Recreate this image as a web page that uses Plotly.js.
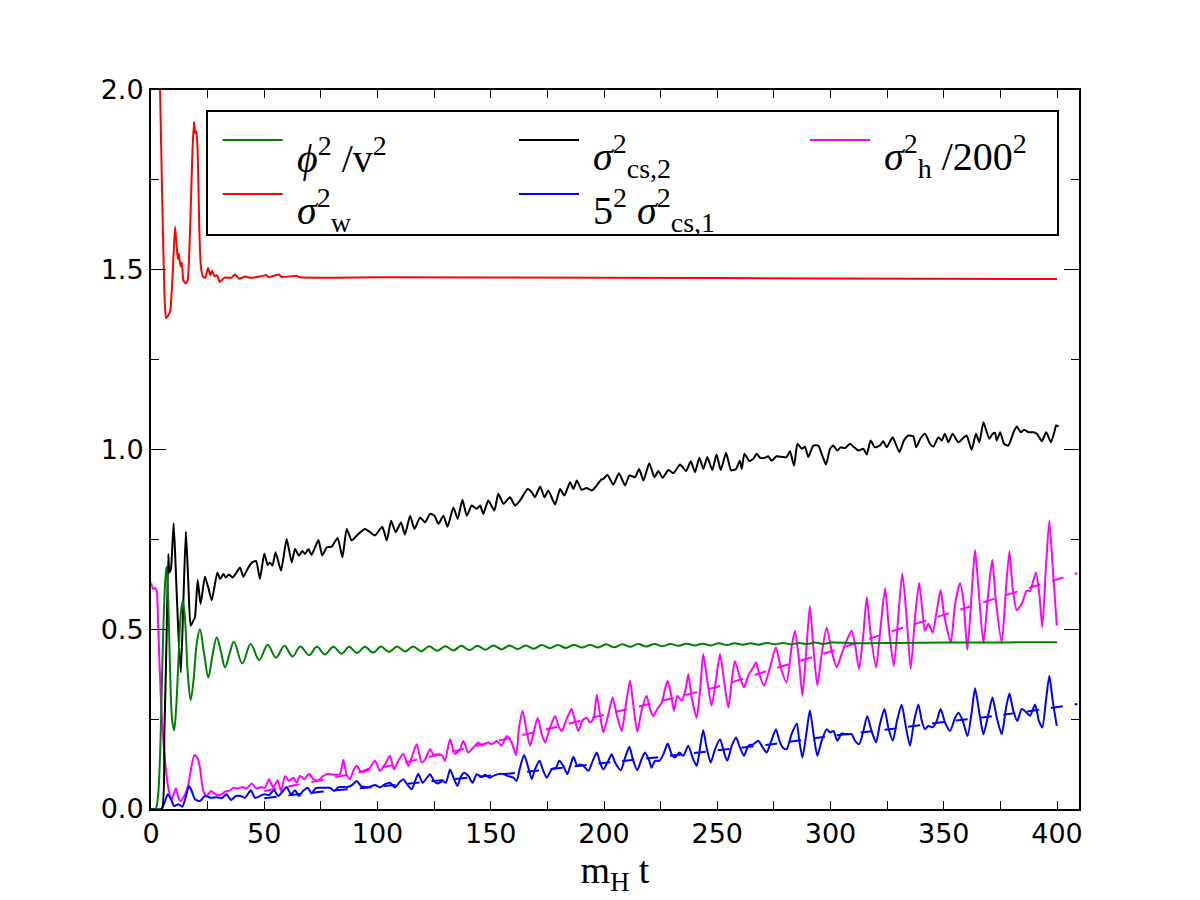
<!DOCTYPE html>
<html>
<head>
<meta charset="utf-8">
<script src="https://cdn.plot.ly/plotly-3.0.1.min.js"></script>
<style>
  html, body { margin: 0; padding: 0; background: #ffffff; }
  #chart { width: 1200px; height: 900px; }
</style>
</head>
<body>
<div id="chart"></div>
<script>
// phi^2 / v^2
const phiT = [0, 2, 3, 4, 5, 6, 6.8, 7.6, 8.4, 9.3, 10.2, 11.1, 12.1, 13.1, 14.0, 15.0, 16.2, 17.5, 18.8, 20.2, 21.6, 23.5, 25.3, 27.2, 29.0, 30.8, 32.7, 34.6, 36.6, 40.3, 44.0, 47.8, 51.5, 55.2, 58.9, 62.5, 65.9, 69.8, 73.2, 76.8, 80.5, 84.2, 87.4, 91.0, 94.4, 98.1, 101.5, 105.1, 108.6, 112.2, 115.7, 119.3, 122.8, 126.4, 129.9, 133.5, 137.0, 140.6, 144.1, 147.7, 151.2, 154.8, 158.3, 161.9, 165.4, 169.0, 172.5, 176.1, 179.6, 183.2, 186.7, 190.3, 193.8, 197.4, 200.9, 204.5, 208.0, 211.6, 215.1, 218.7, 222.2, 225.8, 229.3, 232.9, 236.4, 240.0, 243.5, 247.1, 250.6, 254.2, 257.7, 261.3, 264.8, 268.4, 271.9, 275.5, 279.0, 282.6, 286.1, 289.7, 293.2, 296.8, 300.3, 310, 330, 350, 370, 390, 400];
const phiV = [0, 0.0, 0.03, 0.15, 0.40, 0.60, 0.674, 0.58, 0.393, 0.25, 0.219, 0.28, 0.412, 0.54, 0.579, 0.53, 0.38, 0.303, 0.36, 0.46, 0.50, 0.43, 0.366, 0.43, 0.477, 0.44, 0.394, 0.43, 0.465, 0.405, 0.459, 0.414, 0.457, 0.421, 0.454, 0.424, 0.452, 0.428, 0.451, 0.430, 0.451, 0.432, 0.451, 0.434, 0.451, 0.435, 0.452, 0.437, 0.452, 0.438, 0.452, 0.439, 0.453, 0.440, 0.453, 0.441, 0.454, 0.442, 0.454, 0.443, 0.455, 0.444, 0.455, 0.445, 0.455, 0.446, 0.456, 0.447, 0.456, 0.448, 0.457, 0.449, 0.457, 0.449, 0.458, 0.450, 0.458, 0.451, 0.459, 0.452, 0.459, 0.453, 0.459, 0.454, 0.460, 0.455, 0.460, 0.455, 0.461, 0.456, 0.461, 0.457, 0.461, 0.457, 0.462, 0.458, 0.462, 0.458, 0.462, 0.459, 0.463, 0.459, 0.463, 0.461, 0.462, 0.463, 0.463, 0.464, 0.464];

// sigma_w^2
const sigWT = [0, 2, 4, 5, 6, 6.6, 7.5, 8.5, 9.5, 10.6, 11.3, 11.8, 12.3, 13.0, 13.6, 14.3, 15.3, 16.2, 17.3, 18.3, 19.0, 19.5, 20.0, 20.6, 21.3, 22.0, 23.0, 24.0, 25.2, 26.2, 27.0, 28.0, 29.2, 30.3, 32.5, 35.5, 37, 39, 41.5, 44, 48, 51, 52, 56.5, 57.5, 64.5, 65.5, 100, 200, 300, 400];
const sigWV = [3.1, 2.55, 2.0, 1.68, 1.42, 1.365, 1.372, 1.385, 1.48, 1.62, 1.57, 1.53, 1.545, 1.51, 1.52, 1.47, 1.462, 1.47, 1.62, 1.83, 1.912, 1.88, 1.885, 1.83, 1.62, 1.51, 1.48, 1.478, 1.505, 1.485, 1.497, 1.482, 1.485, 1.466, 1.478, 1.478, 1.487, 1.475, 1.481, 1.478, 1.481, 1.485, 1.479, 1.487, 1.48, 1.483, 1.479, 1.479, 1.478, 1.476, 1.474];

// sigma_cs,2^2
const cs2T = [0, 4.7, 5.9, 6.9, 7.65, 8.1, 8.8, 10.0, 10.9, 12.1, 13.2, 14.3, 15.4, 16.5, 17.5, 18.7, 19.4, 20.6, 21.9, 23.8, 25.3, 26.8, 29.3, 30.5, 32.0, 33.0, 34.4, 36.0, 37.4, 39.3, 40.8, 43.0, 44.7, 46.4, 48.1, 50.0, 51.5, 52.5, 53.6, 55.0, 57.4, 59.9, 62.1, 63.6, 65.3, 66.8, 68.0, 69.5, 70.9, 73.9, 75.6, 77.6, 79.8, 82.4, 84.5, 86.4, 88.6, 91.5, 94.5, 96.7, 98.9, 102.1, 104.1, 106.0, 108.0, 110.4, 112.1, 114.4, 116.3, 118.8, 121.0, 123.2, 125.1, 126.9, 129.1, 130.9, 133.5, 135.4, 137.5, 139.4, 141.6, 143.8, 145.3, 146.7, 148.9, 151.6, 153.3, 155.6, 158.5, 160.7, 162.9, 166.3, 168.1, 169.5, 171.8, 173.7, 175.4, 178.4, 180.6, 182.5, 185.0, 186.5, 188.0, 190.1, 192.3, 194.6, 196.8, 198.7, 199.7, 201.5, 204.1, 206.6, 209.3, 211.2, 213.7, 215.5, 217.4, 220.0, 222.2, 224.0, 225.9, 228.4, 230.6, 233.6, 236.2, 238.3, 240.2, 242.1, 243.9, 245.6, 247.8, 249.7, 251.5, 253.9, 256.1, 258.3, 260.0, 260.8, 262.0, 264.2, 265.9, 267.4, 268.9, 271.1, 272.5, 274.0, 276.2, 278.9, 280.6, 282.1, 283.9, 285.4, 287.3, 288.7, 290.2, 292.4, 294.6, 296.5, 298.0, 299.8, 301.2, 303.0, 304.5, 306.4, 308.6, 310.4, 312.3, 314.5, 316.0, 317.7, 319.6, 321.8, 323.3, 324.8, 327.4, 330.4, 332.4, 334.4, 336.6, 337.8, 339.8, 341.7, 343.9, 345.4, 347.6, 349.1, 350.5, 352.0, 353.9, 356.4, 358.9, 360.1, 362.3, 364.2, 365.7, 367.5, 369.0, 370.1, 371.6, 372.6, 373.4, 374.9, 376.6, 378.5, 380.8, 382.2, 384.0, 385.5, 387.4, 389.6, 391.1, 393.3, 395.2, 397.3, 398.8, 399.6, 400.7];
const cs2V = [0, 0.0, 0.208, 0.486, 0.709, 0.658, 0.668, 0.795, 0.672, 0.486, 0.380, 0.579, 0.772, 0.626, 0.510, 0.524, 0.533, 0.637, 0.570, 0.646, 0.616, 0.581, 0.658, 0.640, 0.654, 0.644, 0.652, 0.644, 0.654, 0.672, 0.646, 0.672, 0.686, 0.690, 0.640, 0.711, 0.679, 0.686, 0.677, 0.714, 0.663, 0.751, 0.686, 0.723, 0.705, 0.718, 0.709, 0.723, 0.707, 0.748, 0.705, 0.728, 0.730, 0.754, 0.700, 0.779, 0.747, 0.765, 0.779, 0.770, 0.761, 0.785, 0.747, 0.802, 0.770, 0.797, 0.763, 0.816, 0.779, 0.811, 0.797, 0.821, 0.816, 0.793, 0.816, 0.785, 0.839, 0.807, 0.860, 0.816, 0.844, 0.835, 0.844, 0.821, 0.858, 0.830, 0.877, 0.849, 0.867, 0.844, 0.858, 0.890, 0.881, 0.867, 0.897, 0.867, 0.886, 0.847, 0.890, 0.872, 0.909, 0.890, 0.914, 0.888, 0.893, 0.886, 0.900, 0.916, 0.918, 0.930, 0.902, 0.934, 0.900, 0.928, 0.923, 0.946, 0.914, 0.962, 0.923, 0.940, 0.921, 0.943, 0.934, 0.958, 0.940, 0.967, 0.937, 0.977, 0.946, 0.979, 0.943, 0.986, 0.943, 0.990, 0.942, 0.946, 0.969, 0.946, 0.988, 0.968, 0.974, 0.988, 0.977, 0.977, 0.981, 0.969, 0.981, 0.979, 0.979, 0.995, 0.955, 1.016, 1.002, 1.008, 0.979, 1.011, 1.011, 0.981, 0.958, 1.002, 1.011, 0.997, 1.006, 1.004, 1.016, 1.006, 0.997, 1.002, 0.986, 1.025, 1.006, 1.011, 1.023, 1.006, 1.034, 0.993, 1.025, 1.039, 1.036, 1.006, 1.032, 1.044, 1.016, 1.008, 1.034, 1.025, 1.044, 1.020, 1.044, 1.020, 1.034, 1.039, 0.999, 1.044, 1.020, 1.076, 1.048, 1.030, 1.044, 1.046, 1.025, 1.048, 1.016, 1.011, 1.048, 1.064, 1.048, 1.055, 1.048, 1.048, 1.044, 1.023, 1.048, 1.020, 1.048, 1.067, 1.064];

// 5^2 sigma_cs,1^2
const cs1T = [0, 4.7, 6.2, 7.4, 8.8, 10.3, 12.1, 13.8, 15.3, 16.8, 18.0, 19.4, 21.6, 23.8, 26.5, 29.0, 31.2, 33.4, 35.3, 37.4, 39.6, 41.5, 44.1, 45.9, 48.1, 50.0, 52.1, 54.3, 56.2, 58.0, 59.9, 61.8, 63.6, 65.3, 66.8, 69.2, 70.9, 72.7, 74.6, 76.8, 79.0, 81.0, 82.7, 84.9, 86.8, 88.9, 90.8, 92.7, 94.5, 96.7, 98.9, 101.1, 103.3, 105.5, 107.7, 109.9, 111.4, 113.2, 115.1, 116.6, 118.0, 119.9, 121.4, 123.2, 124.9, 126.8, 128.8, 130.2, 132.0, 133.8, 135.3, 136.7, 138.2, 140.1, 142.0, 143.8, 146.0, 147.5, 149.4, 151.1, 153.3, 155.6, 157.3, 160.0, 161.4, 162.9, 164.7, 166.6, 168.1, 169.5, 171.5, 173.2, 174.7, 176.9, 178.8, 180.3, 182.0, 183.8, 185.3, 186.5, 188.2, 189.4, 190.9, 193.1, 195.0, 196.8, 198.5, 199.7, 201.9, 203.4, 204.9, 207.4, 209.3, 211.2, 212.9, 214.7, 216.6, 218.1, 220.0, 221.0, 222.5, 224.4, 226.2, 228.1, 229.9, 231.3, 233.3, 235.0, 237.2, 239.1, 240.9, 242.4, 243.8, 245.3, 247.1, 249.0, 251.2, 253.0, 254.4, 256.4, 258.3, 260.0, 261.8, 263.7, 265.9, 268.1, 270.1, 271.8, 273.6, 275.9, 277.4, 278.9, 280.6, 282.8, 285.1, 286.2, 287.6, 289.5, 290.9, 292.7, 294.2, 296.1, 298.3, 299.8, 301.3, 303.0, 304.9, 307.1, 309.3, 310.8, 312.6, 314.5, 316.2, 318.1, 320.1, 321.8, 323.8, 325.5, 327.5, 329.5, 331.4, 333.3, 335.1, 336.9, 338.8, 340.3, 341.7, 343.2, 345.1, 346.9, 348.6, 350.6, 352.8, 355.0, 356.5, 358.4, 360.5, 362.4, 363.8, 365.8, 367.5, 369.7, 371.5, 373.4, 375.6, 377.5, 379.0, 380.7, 382.5, 384.4, 386.6, 388.1, 390.3, 392.0, 393.5, 395.1, 396.6, 398.1, 399.9];
const cs1V = [0, 0.0, 0.022, 0.041, 0.027, 0.008, 0.013, 0.006, 0.032, 0.064, 0.050, 0.027, 0.022, 0.036, 0.031, 0.033, 0.030, 0.041, 0.025, 0.036, 0.036, 0.031, 0.052, 0.031, 0.036, 0.041, 0.039, 0.052, 0.036, 0.048, 0.061, 0.041, 0.052, 0.036, 0.048, 0.059, 0.043, 0.058, 0.059, 0.059, 0.059, 0.050, 0.061, 0.061, 0.061, 0.067, 0.078, 0.064, 0.061, 0.062, 0.067, 0.060, 0.069, 0.073, 0.060, 0.076, 0.083, 0.067, 0.055, 0.078, 0.098, 0.073, 0.083, 0.097, 0.078, 0.071, 0.078, 0.073, 0.110, 0.083, 0.064, 0.089, 0.101, 0.092, 0.073, 0.097, 0.089, 0.095, 0.087, 0.092, 0.097, 0.097, 0.092, 0.087, 0.078, 0.115, 0.150, 0.115, 0.083, 0.110, 0.134, 0.106, 0.087, 0.110, 0.115, 0.134, 0.120, 0.097, 0.124, 0.145, 0.120, 0.124, 0.120, 0.106, 0.134, 0.157, 0.124, 0.110, 0.134, 0.152, 0.129, 0.108, 0.143, 0.173, 0.134, 0.108, 0.139, 0.157, 0.134, 0.115, 0.134, 0.134, 0.152, 0.182, 0.152, 0.143, 0.157, 0.148, 0.176, 0.143, 0.120, 0.171, 0.219, 0.171, 0.129, 0.166, 0.194, 0.157, 0.134, 0.176, 0.199, 0.171, 0.148, 0.176, 0.180, 0.190, 0.171, 0.157, 0.185, 0.222, 0.190, 0.171, 0.166, 0.208, 0.238, 0.190, 0.143, 0.217, 0.275, 0.199, 0.148, 0.190, 0.222, 0.213, 0.217, 0.190, 0.210, 0.208, 0.208, 0.190, 0.180, 0.217, 0.259, 0.217, 0.185, 0.236, 0.278, 0.227, 0.190, 0.250, 0.290, 0.227, 0.176, 0.245, 0.291, 0.245, 0.222, 0.231, 0.227, 0.245, 0.278, 0.240, 0.217, 0.254, 0.268, 0.245, 0.203, 0.273, 0.336, 0.264, 0.208, 0.264, 0.310, 0.254, 0.208, 0.282, 0.321, 0.273, 0.245, 0.278, 0.268, 0.259, 0.291, 0.245, 0.227, 0.301, 0.371, 0.301, 0.231];

// sigma_h^2 / 200^2
const sigHT = [0, 1.0, 1.8, 2.5, 3.2, 4.4, 6.2, 7.9, 9.1, 11.0, 12.1, 13.1, 14.7, 16.5, 19.1, 20.6, 21.6, 23.1, 24.6, 26.5, 28.5, 30.5, 32.7, 34.9, 36.4, 38.3, 40.3, 42.2, 44.4, 46.6, 48.6, 50.3, 52.1, 54.0, 55.9, 57.4, 59.2, 60.9, 62.8, 64.3, 65.8, 67.7, 69.8, 71.7, 73.9, 76.1, 78.3, 81.2, 83.4, 84.9, 86.4, 87.9, 89.3, 90.8, 92.7, 94.5, 96.7, 98.9, 101.1, 103.3, 105.5, 107.3, 109.2, 111.4, 113.6, 115.1, 117.3, 119.5, 121.0, 123.2, 124.7, 126.1, 128.3, 129.8, 132.0, 134.2, 136.1, 137.9, 140.1, 142.3, 144.5, 146.0, 147.5, 149.0, 150.4, 152.6, 154.8, 157.0, 159.2, 161.2, 162.5, 164.1, 165.9, 167.4, 169.1, 170.7, 172.5, 174.0, 176.2, 178.4, 179.9, 181.3, 183.5, 185.7, 187.2, 188.7, 190.6, 192.3, 193.8, 195.3, 196.8, 198.2, 199.7, 201.9, 203.8, 205.6, 207.8, 209.7, 211.5, 212.9, 214.7, 216.6, 218.8, 220.3, 221.8, 223.5, 225.5, 226.9, 228.1, 229.6, 230.9, 232.4, 234.3, 236.2, 237.2, 238.7, 240.9, 242.4, 243.8, 245.6, 247.5, 249.4, 251.2, 253.0, 254.9, 256.4, 257.8, 260.0, 261.8, 263.7, 265.9, 267.1, 268.6, 270.6, 273.3, 275.9, 278.0, 280.6, 282.8, 284.3, 286.1, 287.6, 289.5, 290.9, 292.4, 294.2, 296.1, 298.3, 300.5, 302.7, 304.9, 307.1, 309.3, 310.8, 312.6, 314.5, 316.0, 317.7, 320.1, 322.1, 324.1, 326.0, 328.0, 330.0, 331.7, 333.6, 335.4, 337.3, 339.1, 340.7, 341.7, 343.2, 345.1, 346.9, 348.6, 350.1, 353.1, 355.0, 357.2, 358.7, 360.4, 362.3, 363.8, 365.3, 367.5, 369.6, 371.4, 373.0, 375.6, 377.5, 379.0, 380.4, 382.2, 384.4, 386.6, 388.1, 390.7, 392.2, 393.5, 395.1, 396.6, 398.1, 399.9];
const sigHV = [0.630, 0.612, 0.615, 0.607, 0.505, 0.301, 0.134, 0.050, 0.027, 0.058, 0.031, 0.022, 0.036, 0.069, 0.150, 0.141, 0.115, 0.050, 0.036, 0.050, 0.041, 0.038, 0.048, 0.052, 0.059, 0.057, 0.061, 0.057, 0.071, 0.057, 0.061, 0.059, 0.083, 0.059, 0.080, 0.050, 0.092, 0.078, 0.087, 0.073, 0.092, 0.083, 0.098, 0.083, 0.080, 0.092, 0.098, 0.095, 0.097, 0.136, 0.095, 0.083, 0.106, 0.120, 0.104, 0.108, 0.115, 0.134, 0.106, 0.124, 0.148, 0.110, 0.134, 0.154, 0.120, 0.143, 0.180, 0.129, 0.138, 0.166, 0.152, 0.152, 0.150, 0.134, 0.194, 0.154, 0.162, 0.189, 0.157, 0.171, 0.185, 0.176, 0.182, 0.185, 0.180, 0.189, 0.176, 0.203, 0.185, 0.150, 0.227, 0.273, 0.213, 0.176, 0.217, 0.254, 0.208, 0.185, 0.227, 0.259, 0.231, 0.217, 0.250, 0.278, 0.245, 0.217, 0.247, 0.254, 0.240, 0.250, 0.318, 0.264, 0.213, 0.263, 0.310, 0.263, 0.217, 0.292, 0.357, 0.292, 0.215, 0.273, 0.315, 0.278, 0.259, 0.278, 0.296, 0.333, 0.357, 0.319, 0.273, 0.315, 0.301, 0.338, 0.375, 0.310, 0.254, 0.329, 0.431, 0.357, 0.287, 0.357, 0.431, 0.357, 0.282, 0.357, 0.412, 0.366, 0.338, 0.371, 0.394, 0.408, 0.375, 0.343, 0.394, 0.450, 0.394, 0.352, 0.450, 0.496, 0.412, 0.315, 0.459, 0.565, 0.450, 0.343, 0.431, 0.505, 0.440, 0.394, 0.431, 0.468, 0.496, 0.459, 0.389, 0.487, 0.589, 0.487, 0.394, 0.505, 0.614, 0.487, 0.398, 0.542, 0.656, 0.533, 0.389, 0.533, 0.629, 0.542, 0.496, 0.515, 0.491, 0.551, 0.609, 0.542, 0.463, 0.570, 0.628, 0.579, 0.442, 0.598, 0.721, 0.616, 0.461, 0.598, 0.693, 0.579, 0.463, 0.616, 0.717, 0.616, 0.553, 0.570, 0.607, 0.607, 0.658, 0.598, 0.505, 0.672, 0.802, 0.672, 0.510];

// Smooth trend curves (dashed)
const fitHT = [50, 75, 100, 125, 150, 175, 200, 225, 250, 275, 300, 325, 350, 375, 409];
const fitHV = [0.050, 0.080, 0.113, 0.148, 0.185, 0.222, 0.262, 0.300, 0.340, 0.390, 0.438, 0.490, 0.540, 0.590, 0.656];
const fitCsT = [50, 75, 100, 125, 150, 175, 200, 225, 250, 275, 300, 325, 350, 375, 409];
const fitCsV = [0.030, 0.048, 0.062, 0.078, 0.093, 0.110, 0.128, 0.145, 0.163, 0.181, 0.203, 0.221, 0.242, 0.261, 0.292];

// Axis tick labels
const xTicks = [0, 50, 100, 150, 200, 250, 300, 350, 400];
const yTicks = [0, 0.5, 1.0, 1.5, 2.0];

const GREEN = '#008000', RED = '#ff0000', BLACK = '#000000', BLUE = '#0000ff', MAGENTA = '#ff00ff';

function series(t, v, color, smooth, dash) {
  return {
    x: t, y: v, type: 'scatter', mode: 'lines', showlegend: false, hoverinfo: 'skip',
    line: { color: color, width: 2, shape: smooth ? 'spline' : 'linear', smoothing: smooth || 0, dash: dash || 'solid' }
  };
}

const traces = [
  series(fitHT, fitHV, MAGENTA, 0.8, '12px,12px'),
  series(fitCsT, fitCsV, BLUE, 0.8, '12px,12px'),
  series(sigHT, sigHV, MAGENTA, 0.6),
  series(cs1T, cs1V, BLUE, 0.6),
  series(cs2T, cs2V, BLACK, 0.5),
  series(phiT, phiV, GREEN, 1.0),
  series(sigWT, sigWV, RED, 0.4)
];

// Legend (three columns, two rows) drawn in paper coordinates
const W = 928, H = 719, L = 151, T = 90;
const px = v => (v - L) / W;
const py = v => (T + H - v) / H;
const legendItems = [
  { color: GREEN,   text: '<i>ϕ</i><sup>2</sup> /v<sup>2</sup>', col: 0, row: 0 },
  { color: RED,     text: '<i>σ</i><sup>2</sup><sub>w</sub>', col: 0, row: 1 },
  { color: BLACK,   text: '<i>σ</i><sup>2</sup><sub>cs,2</sub>', col: 1, row: 0 },
  { color: BLUE,    text: '5<sup>2</sup> <i>σ</i><sup>2</sup><sub>cs,1</sub>', col: 1, row: 1 },
  { color: MAGENTA, text: '<i>σ</i><sup>2</sup><sub>h</sub> /200<sup>2</sup>', col: 2, row: 0 }
];
const colLineX = [222.7, 519, 810];
const rowY = [140, 194];

const shapes = [{
  type: 'rect', xref: 'paper', yref: 'paper',
  x0: px(207), x1: px(1058), y0: py(235), y1: py(111),
  line: { color: '#000', width: 2 }, fillcolor: '#ffffff', layer: 'above'
}];
const annotations = [];
legendItems.forEach(it => {
  const lx = colLineX[it.col], ly = rowY[it.row];
  shapes.push({
    type: 'line', xref: 'paper', yref: 'paper',
    x0: px(lx), x1: px(lx + 60), y0: py(ly), y1: py(ly),
    line: { color: it.color, width: 2 }, layer: 'above'
  });
  annotations.push({
    xref: 'paper', yref: 'paper', x: px(lx + 72), y: py(ly + 16),
    xanchor: 'left', yanchor: 'middle', showarrow: false,
    text: it.text, font: { family: 'Liberation Serif, serif', size: 40, color: '#000' }
  });
});

const layout = {
  width: 1200, height: 900,
  paper_bgcolor: '#ffffff', plot_bgcolor: '#ffffff',
  margin: { l: L, r: 1200 - L - W, t: T, b: 900 - T - H },
  font: { family: 'DejaVu Sans, sans-serif', size: 27, color: '#000' },
  xaxis: {
    range: [0, 409.7], tickvals: xTicks, ticktext: xTicks.map(String),
    ticks: 'inside', ticklen: 8, tickwidth: 1, tickcolor: '#000',
    minor: { tickvals: [25, 75, 125, 175, 225, 275, 325, 375], ticks: 'inside', ticklen: 8, tickcolor: '#000', tickwidth: 1 },
    showline: true, linecolor: '#000', linewidth: 2, mirror: 'allticks',
    showgrid: false, zeroline: false,
    tickfont: { family: 'DejaVu Sans, sans-serif', size: 27, color: '#000' },
    title: { text: 'm<sub>H</sub> t', font: { family: 'Liberation Serif, serif', size: 38, color: '#000' }, standoff: 0 }
  },
  yaxis: {
    range: [0, 2], tickvals: yTicks, ticktext: yTicks.map(v => v.toFixed(1)),
    ticks: 'inside', ticklen: 15, tickwidth: 1, tickcolor: '#000',
    minor: { tickvals: [0.25, 0.75, 1.25, 1.75], ticks: 'inside', ticklen: 8, tickcolor: '#000', tickwidth: 1 },
    showline: true, linecolor: '#000', linewidth: 2, mirror: 'allticks',
    showgrid: false, zeroline: false,
    tickfont: { family: 'DejaVu Sans, sans-serif', size: 27, color: '#000' }
  },
  shapes: shapes,
  annotations: annotations
};

Plotly.newPlot('chart', traces, layout, { staticPlot: true, displayModeBar: false });
</script>
</body>
</html>
